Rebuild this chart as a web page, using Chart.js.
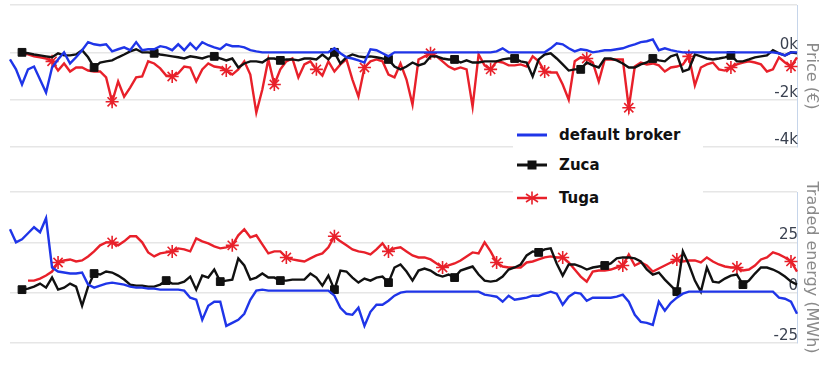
<!DOCTYPE html>
<html>
<head>
<meta charset="utf-8">
<script src="https://cdn.jsdelivr.net/npm/chart.js@4"></script>
<style>
  html, body { margin: 0; padding: 0; background: #fff; }
  #wrap { position: relative; width: 824px; height: 366px; overflow: hidden; }
  canvas { position: absolute; left: 0; }
  #cPrice { top: 0; }
  #cEnergy { top: 170px; }
  #legend { position: absolute; left: 513px; top: 116px; width: 190px; height: 98px; background: #fff;
            font: bold 15px "DejaVu Sans", Verdana, sans-serif; color: #111; }
  .item { position: absolute; left: 0; height: 22px; display: flex; align-items: center; }
  .item svg { margin-left: 3px; margin-right: 11px; }
</style>
</head>
<body>
<div id="wrap">
  <canvas id="cPrice" width="824" height="170"></canvas>
  <canvas id="cEnergy" width="824" height="196"></canvas>
  <div id="legend">
    <div class="item" style="top:8px">
      <svg width="32" height="14"><line x1="1" y1="7" x2="31" y2="7" stroke="#1f35e8" stroke-width="3"/></svg>
      <span>default broker</span>
    </div>
    <div class="item" style="top:38px">
      <svg width="32" height="14"><line x1="1" y1="7" x2="31" y2="7" stroke="#111" stroke-width="3"/><rect x="11.5" y="2.5" width="9" height="9" fill="#111"/></svg>
      <span>Zuca</span>
    </div>
    <div class="item" style="top:71px">
      <svg width="32" height="14"><line x1="1" y1="7" x2="31" y2="7" stroke="#e8202a" stroke-width="2.5"/>
        <g stroke="#e8202a" stroke-width="1.6"><line x1="16" y1="0.5" x2="16" y2="13.5"/><line x1="10" y1="3" x2="22" y2="11"/><line x1="10" y1="11" x2="22" y2="3"/></g></svg>
      <span>Tuga</span>
    </div>
  </div>
</div>
<script>
// Sample index along the shared time axis
const sampleCount = 132;
const samples = Array.from({ length: sampleCount }, (_, i) => i);

// Price (€) per broker
const priceDefault = [
  -300, -720, -1360, -720, -600, -1150, -1700, -640, -300, 0,
  -470, -210, 90, 430, 340, 300, 340, 40, 130, 210,
  90, 430, 90, 130, 130, 260, 210, 90, 340, 90,
  380, 130, 430, 300, 210, 130, 340, 260, 260, 210,
  90, 40, 0, 0, 0, 0, 0, 0, 0, 0,
  0, 0, 0, 0, 170, -40, -210, -260, -340, -430,
  130, 90, -40, -170, 0, 0, 0, 0, 0, 0,
  0, 0, 0, 0, 0, 0, 0, 0, 0, 0,
  0, 40, 170, 0, 0, 0, 0, 0, 0, 0,
  170, 380, 340, 170, 40, 130, 90, 0, 40, 90,
  90, 130, 170, 260, 340, 430, 470, 550, 90, 170,
  90, 40, 0, 0, 0, 0, 0, 0, 0, 0,
  0, 0, 0, 0, 0, 0, 0, 0, -40, -130,
  0, 0
];
const priceZuca = [
  null, null, 0, -40, -90, -130, -170, -210, -40, -130,
  -130, -90, 90, -210, -640, -430, -380, -340, -210, -90,
  40, 130, 0, 0, -40, -90, -130, -170, -210, -260,
  -170, -210, -260, -170, -170, -260, -340, -260, -640, -470,
  -380, -380, -430, -260, -260, -340, -300, -300, -340, -260,
  -260, -300, -90, -300, 0, -470, -210, -90, -170, -210,
  -170, -210, -260, -300, -600, -720, -600, -430, -550, -470,
  -170, -170, -260, -300, -300, -430, -340, -430, -430, -380,
  -380, -380, -300, -260, -260, -380, -430, -1020, -300, -90,
  -40, -260, -510, -770, -720, -720, -430, -550, -640, -260,
  -260, -340, -470, -640, -640, -510, -430, -260, -340, -380,
  -170, -90, -810, -720, -90, -170, -260, -300, -260, -210,
  -130, -380, -380, -300, -210, -170, -130, 90, -40, -130,
  0, -40
];
const priceTuga = [
  null, null, 0, -90, -170, -210, -260, -380, -770, -470,
  -810, -640, -640, -770, -810, -810, -1060, -2090, -1230, -1870,
  -1490, -1060, -1020, -380, -470, -680, -980, -1020, -890, -600,
  -640, -1230, -720, -470, -600, -640, -770, -940, -720, -380,
  -940, -2550, -1570, -300, -1360, -720, -380, -260, -1060, -510,
  -380, -720, -980, -380, -810, -510, -300, -1150, -1870, -640,
  -380, -300, -380, -940, -1060, -470, -1150, -2210, -300, -170,
  -40, -170, -380, -600, -720, -640, -720, -2300, -90, -550,
  -720, -380, -430, -550, -550, -510, -600, -170, -380, -810,
  -850, -850, -1360, -2000, -380, -210, -260, -430, -1230, -300,
  -300, -300, -300, -2340, -600, -430, -510, -470, -550, -810,
  -640, -600, -510, -170, -1400, -640, -510, -430, -720, -770,
  -640, -510, -430, -380, -430, -510, -810, -720, -210, -430,
  -600, -210
];

// Traded energy (MWh) per broker
const energyDefault = [
  31.5, 25, 26.5, 29.5, 32.5, 30, 37, 12.5, 10.5, 10,
  9.5, 9.5, 10, 4, 2.5, 3.5, 4.5, 5, 4.5, 4,
  3, 2.5, 2.5, 2, 2, 1.5, 1.5, 1.5, 1.5, 1,
  -2.5, -3.5, -13.5, -6.5, -4.5, -4.5, -16.5, -15, -13.5, -10.5,
  -3.5, 1, 1.5, 1, 1, 1, 1, 1, 1, 1,
  1, 1, 1, 1, -1.5, -7.5, -10.5, -11, -7.5, -16.5,
  -9.5, -6, -6, -4, -1.5, 0, 0.5, 0.5, 0.5, 0.5,
  0.5, 0.5, 0.5, 0.5, 0.5, 0.5, 0.5, 0.5, 0.5, -1,
  -1.5, -2, -4.5, -1.5, -3.5, -3, -2.5, -1.5, -1.5, -0.5,
  0.5, -0.5, -6, -2, 0, -0.5, -4, -2.5, -2.5, -2.5,
  -2.5, -2, -1, -4.5, -11, -14.5, -15, -16, -4.5, -9,
  -5, -2.5, -0.5, 0.5, 0.5, 0.5, 0.5, 0.5, 0.5, 0.5,
  0.5, 0.5, 0.5, 0.5, 0.5, 0.5, 0.5, 0.5, -2.5, -3,
  -4.5, -10.5
];
const energyZuca = [
  null, null, 1.5, 2, 3, 4.5, 2.5, 7.5, 1.5, 2.5,
  4.5, 3, -6.5, 3, 9.5, 9, 10.5, 10, 8.5, 6.5,
  4, 3.5, 3.5, 3, 3, 4, 6, 4.5, 4.5, 5.5,
  8, 1.5, 8.5, 7.5, 11.5, 5.5, 6, 6.5, 17, 13.5,
  6.5, 7.5, 9.5, 7.5, 7.5, 6, 6, 6.5, 6.5, 6.5,
  9.5, 7.5, 3.5, 8.5, 1.5, 11, 10.5, 7.5, 5, 7,
  6, 7.5, 8, 5, 12.5, 14, 10.5, 6, 11, 12,
  11, 9, 8, 9, 7.5, 11, 12, 13, 9, 6,
  5.5, 6, 8, 11.5, 12.5, 14, 18.5, 20.5, 20, 21.5,
  22, 14.5, 8.5, 14, 14, 13, 11.5, 12.5, 13, 13.5,
  14.5, 17, 17.5, 17.5, 17, 15.5, 11.5, 9, 10, 6.5,
  3.5, 0.5, 20.5, 14, 6, 0.5, 12.5, 5.5, 5, 7,
  8.5, 9, 4, 6, 9.5, 12.5, 12.5, 11.5, 10, 8,
  5.5, 4
];
const energyTuga = [
  null, null, null, 6, 6, 7, 8.5, 10.5, 15, 16,
  16.5, 15.5, 16, 18, 20.5, 23.5, 25, 25, 23.5, 25.5,
  28, 28, 25, 20, 18, 19.5, 20, 20.5, 22, 21.5,
  20.5, 27, 25.5, 24.5, 23, 22, 22.5, 23.5, 28.5, 31.5,
  27.5, 28.5, 24, 19.5, 20.5, 20.5, 17.5, 16.5, 16, 15.5,
  17, 18.5, 19.5, 22.5, 28, 25.5, 23.5, 21.5, 20.5, 20,
  19, 21.5, 24.5, 20.5, 22, 22.5, 20.5, 18.5, 17.5, 17.5,
  16.5, 14.5, 12.5, 13.5, 14.5, 16, 18, 20, 19.5, 25,
  20.5, 15, 13, 12.5, 12.5, 12.5, 15, 15.5, 16.5, 17.5,
  18, 17.5, 17.5, 15, 11.5, 8, 5.5, 10.5, 11, 11,
  11.5, 12.5, 13.5, 19, 13.5, 15, 13.5, 10.5, 12, 13.5,
  15, 16.5, 15.5, 16, 16, 15, 17.5, 15.5, 14, 13,
  12.5, 12.5, 11, 11.5, 13.5, 16.5, 17.5, 20, 19, 17.5,
  15.5, 10.5
];

// Samples that carry a marker in each series
const zucaPriceMarked = [2, 14, 24, 34, 45, 54, 63, 74, 84, 95, 107, 120];
const tugaPriceMarked = [7, 17, 27, 36, 44, 51, 59, 70, 80, 89, 96, 103, 113, 120, 130];
const zucaEnergyMarked = [2, 14, 26, 35, 45, 54, 63, 74, 88, 99, 111, 122];
const tugaEnergyMarked = [8, 17, 27, 37, 46, 54, 63, 72, 81, 92, 102, 111, 121, 130];

// Axis ticks
const priceTicks = { min: -4000, max: 2000, step: 2000 };
const energyTicks = { min: -25, max: 50, step: 25 };

const BLUE = '#1f35e8', BLACK = '#111111', RED = '#e8202a';

function series(label, data, color, style, marked) {
  return {
    label, data,
    borderColor: color, backgroundColor: color,
    borderWidth: 2.4, tension: 0, fill: false,
    pointStyle: style || 'circle',
    pointRadius: c => (marked && marked.includes(c.dataIndex)) ? (style === 'star' ? 6.5 : 5.5) : 0,
    pointBorderWidth: style === 'star' ? 1.6 : 1,
    pointBorderColor: color, pointBackgroundColor: color
  };
}

function makeChart(canvas, datasets, ticks, fmt, title, padTop, padBottom) {
  return new Chart(canvas, {
    type: 'line',
    data: { labels: samples, datasets },
    options: {
      responsive: false, animation: false, devicePixelRatio: 1,
      layout: { padding: { left: 10, right: 0, top: padTop, bottom: padBottom } },
      plugins: { legend: { display: false }, tooltip: { enabled: false } },
      scales: {
        x: { display: false },
        y: {
          position: 'right',
          min: ticks.min, max: ticks.max,
          ticks: {
            stepSize: ticks.step, mirror: true, padding: 1, labelOffset: -7,
            color: '#3a4150', font: { family: 'DejaVu Sans', size: 15 },
            callback: v => v === ticks.max ? '' : fmt(v)
          },
          grid: { color: '#e6e6e6', lineWidth: 1.5, drawTicks: false },
          border: { display: true, color: '#c6d5ea', width: 1 },
          title: {
            display: true, text: title, color: '#8a8a8a',
            font: { family: 'DejaVu Sans', size: 16 }, padding: { top: 3, bottom: 0 }
          },
          afterFit: s => { s.width = 27; s.paddingTop = 0; s.paddingBottom = 0; }
        }
      }
    }
  });
}

makeChart(document.getElementById('cPrice'), [
  series('default broker', priceDefault, BLUE, null, null),
  series('Zuca', priceZuca, BLACK, 'rect', zucaPriceMarked),
  series('Tuga', priceTuga, RED, 'star', tugaPriceMarked)
], priceTicks, v => (v / 1000) + 'k', 'Price (€)', 5, 23);

makeChart(document.getElementById('cEnergy'), [
  series('default broker', energyDefault, BLUE, null, null),
  series('Zuca', energyZuca, BLACK, 'rect', zucaEnergyMarked),
  series('Tuga', energyTuga, RED, 'star', tugaEnergyMarked)
], energyTicks, v => String(v), 'Traded energy (MWh)', 22, 23);
</script>
</body>
</html>
